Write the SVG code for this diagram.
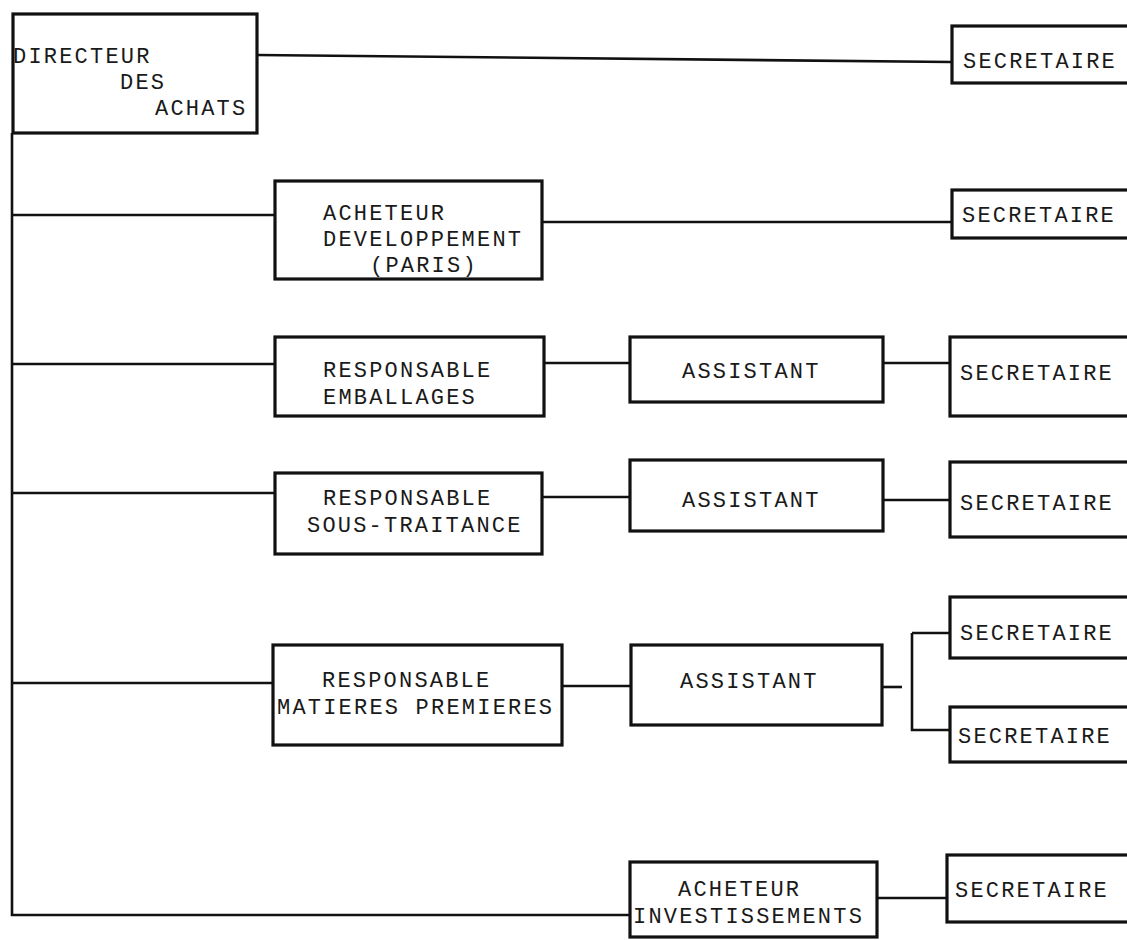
<svg xmlns="http://www.w3.org/2000/svg" width="1127" height="940" viewBox="0 0 1127 940">
<style>
.box{fill:#fff;stroke:#111;stroke-width:3.2}
.ln{fill:none;stroke:#111;stroke-width:2.6}
.t{font-family:"Liberation Mono","Courier New",monospace;font-size:22px;letter-spacing:2.2px;fill:#1a1a1a}
</style>
<rect width="1127" height="940" fill="#fff"/>
<g id="connectors">
<path class="ln" d="M12 133 V915 H630"/>
<path class="ln" d="M257 55 L952 62"/>
<path class="ln" d="M12 215 H275"/>
<path class="ln" d="M542 222 H952"/>
<path class="ln" d="M12 364 H275"/>
<path class="ln" d="M544 363 H630"/>
<path class="ln" d="M883 363 H950"/>
<path class="ln" d="M12 493 H275"/>
<path class="ln" d="M542 497 H630"/>
<path class="ln" d="M883 500 H950"/>
<path class="ln" d="M12 683 H273"/>
<path class="ln" d="M562 686 H631"/>
<path class="ln" d="M882 687 H902" stroke-width="1.5"/>
<path class="ln" d="M950 730 H912 V633"/>
<path class="ln" d="M912 633 H950" stroke-width="5"/>
<path class="ln" d="M877 898 H947"/>
</g>
<g id="directeur">
<rect class="box" x="13" y="14" width="244" height="119"/>
<text class="t" x="13" y="63">DIRECTEUR</text>
<text class="t" x="120" y="89">DES</text>
<text class="t" x="155" y="115">ACHATS</text>
</g>
<g id="sec1">
<rect class="box" x="952" y="26" width="185" height="57"/>
<text class="t" x="963" y="68">SECRETAIRE</text>
</g>
<g id="acheteur-dev">
<rect class="box" x="275" y="181" width="267" height="98"/>
<text class="t" x="323" y="220">ACHETEUR</text>
<text class="t" x="323" y="246">DEVELOPPEMENT</text>
<text class="t" x="370" y="272">(PARIS)</text>
</g>
<g id="sec2">
<rect class="box" x="952" y="190" width="185" height="48"/>
<text class="t" x="962" y="222">SECRETAIRE</text>
</g>
<g id="resp-emb">
<rect class="box" x="275" y="337" width="269" height="79"/>
<text class="t" x="323" y="377">RESPONSABLE</text>
<text class="t" x="323" y="404">EMBALLAGES</text>
</g>
<g id="assist1">
<rect class="box" x="630" y="337" width="253" height="65"/>
<text class="t" x="682" y="378">ASSISTANT</text>
</g>
<g id="sec3">
<rect class="box" x="950" y="337" width="187" height="79"/>
<text class="t" x="960" y="380">SECRETAIRE</text>
</g>
<g id="resp-sous">
<rect class="box" x="275" y="473" width="267" height="81"/>
<text class="t" x="323" y="505">RESPONSABLE</text>
<text class="t" x="307" y="532">SOUS-TRAITANCE</text>
</g>
<g id="assist2">
<rect class="box" x="630" y="460" width="253" height="71"/>
<text class="t" x="682" y="507">ASSISTANT</text>
</g>
<g id="sec4">
<rect class="box" x="950" y="462" width="187" height="75"/>
<text class="t" x="960" y="510">SECRETAIRE</text>
</g>
<g id="resp-mat">
<rect class="box" x="273" y="645" width="289" height="100"/>
<text class="t" x="322" y="687">RESPONSABLE</text>
<text class="t" x="277" y="714">MATIERES PREMIERES</text>
</g>
<g id="assist3">
<rect class="box" x="631" y="645" width="251" height="80"/>
<text class="t" x="680" y="688">ASSISTANT</text>
</g>
<g id="sec5">
<rect class="box" x="950" y="597" width="187" height="61"/>
<text class="t" x="960" y="640">SECRETAIRE</text>
</g>
<g id="sec6">
<rect class="box" x="950" y="707" width="187" height="55"/>
<text class="t" x="958" y="743">SECRETAIRE</text>
</g>
<g id="acheteur-inv">
<rect class="box" x="630" y="862" width="247" height="75"/>
<text class="t" x="678" y="896">ACHETEUR</text>
<text class="t" x="633" y="923">INVESTISSEMENTS</text>
</g>
<g id="sec7">
<rect class="box" x="947" y="855" width="190" height="67"/>
<text class="t" x="955" y="897">SECRETAIRE</text>
</g>
</svg>
